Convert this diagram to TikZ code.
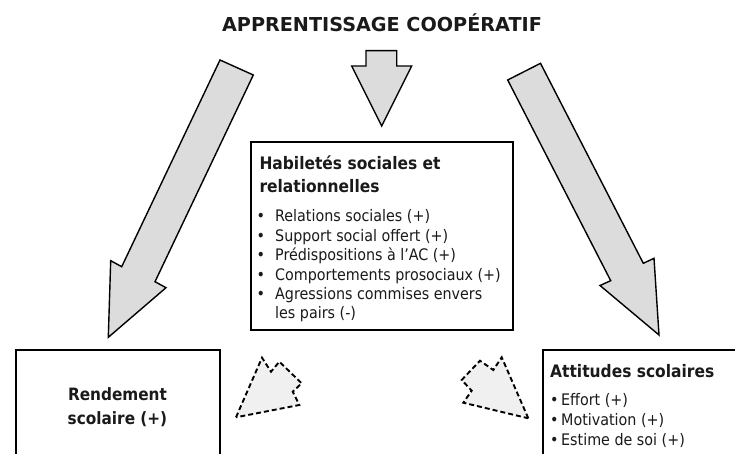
\documentclass[tikz,border=0pt]{standalone}
\usepackage{fontspec}
\setmainfont{DejaVu Sans Condensed}
\newfontfamily\titlefont{DejaVu Sans}
\definecolor{arrowgray}{HTML}{DCDCDC}
\definecolor{dashgray}{HTML}{F0F0F0}
\definecolor{txt}{HTML}{1A1A1A}
\begin{document}
\begin{tikzpicture}[x=1pt,y=-1pt,
  box/.style={draw=black, line width=2.3pt, fill=white, inner sep=0pt, anchor=north west},
  bigarrow/.style={draw=black, line width=1.4pt, fill=arrowgray, line join=miter},
  dasharrow/.style={draw=black, line width=1.9pt, dash pattern=on 5pt off 3pt, fill=dashgray},
  ttl/.style={font=\titlefont\fontsize{19.2}{23}\selectfont\bfseries, text=txt, inner sep=0pt, anchor=base},
  hdr/.style={font=\fontsize{17.2}{20}\selectfont\bfseries, text=txt, inner sep=0pt, anchor=base west},
  hdrc/.style={font=\fontsize{17}{20}\selectfont\bfseries, text=txt, inner sep=0pt, anchor=base},
  itm/.style={font=\fontsize{15.9}{19}\selectfont, text=txt, inner sep=0pt, anchor=base west},
]
\useasboundingbox (0,0) rectangle (735,454);
\clip (0,0) rectangle (735,454);

% title
\node[ttl] (title) at (382,31.7) {APPRENTISSAGE COOPÉRATIF};

% big arrows
\draw[bigarrow] (366,50.7) -- (396.7,50.7) -- (396.7,66) -- (411.7,66) -- (381.7,126) -- (351.7,66) -- (366,66) -- cycle;
\draw[bigarrow] (220,60) -- (253.3,75) -- (155,281.7) -- (166,287.7) -- (108.3,337.3) -- (110.7,260.7) -- (121.7,266.7) -- cycle;
\draw[bigarrow] (540.5,63.3) -- (507.7,80) -- (610.7,280.7) -- (600,285.5) -- (659,335) -- (654,258.3) -- (643.3,263.3) -- cycle;

% boxes
\node[box, minimum width=262pt, minimum height=188pt] (hab) at (250,141) {};
\node[box, minimum width=204pt, minimum height=130pt] (rend) at (15,349) {};
\node[box, minimum width=220pt, minimum height=130pt] (att) at (542,349) {};

% dashed arrows
\draw[dasharrow] (236,417.3) -- (262,357.7) -- (271,371.7) -- (279.3,361.7) -- (301.7,383.3) -- (292.7,391.7) -- (299.3,405) -- cycle;
\draw[dasharrow] (528.3,418.3) -- (501.7,357.3) -- (493.3,370) -- (480,360.7) -- (461.7,380) -- (471.7,390.7) -- (463.3,402.7) -- cycle;

% centre box text
\node[hdr] (h1) at (259.3,169.5) {Habiletés sociales et};
\node[hdr] (h2) at (259.3,192.2) {relationnelles};
\node[itm] (i1) at (256.5,221.5) {\makebox[18.5pt][l]{•}Relations sociales (+)};
\node[itm] (i2) at (256.5,241) {\makebox[18.5pt][l]{•}Support social offert (+)};
\node[itm] (i3) at (256.5,260.8) {\makebox[18.5pt][l]{•}Prédispositions à l’AC (+)};
\node[itm] (i4) at (256.5,280.3) {\makebox[18.5pt][l]{•}Comportements prosociaux (+)};
\node[itm] (i5) at (256.5,299.7) {\makebox[18.5pt][l]{•}Agressions commises envers};
\node[itm] (i6) at (275,318.5) {les pairs (-)};

% rendement
\node[hdrc] (r1) at (117.5,400.7) {Rendement};
\node[hdrc] (r2) at (117.5,424) {scolaire (+)};

% attitudes
\node[hdr] (a0) at (550,377.3) {Attitudes scolaires};
\node[itm] (a1) at (550,405) {\makebox[11pt][l]{•}Effort (+)};
\node[itm] (a2) at (550,425) {\makebox[11pt][l]{•}Motivation (+)};
\node[itm] (a3) at (550,445.7) {\makebox[11pt][l]{•}Estime de soi (+)};
\end{tikzpicture}
\end{document}
